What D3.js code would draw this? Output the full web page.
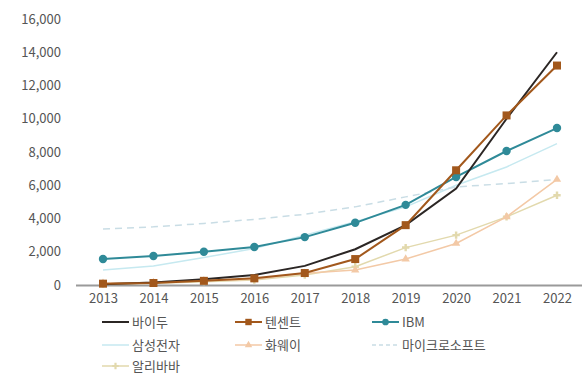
<!DOCTYPE html>
<html>
<head>
<meta charset="utf-8">
<script src="https://cdn.jsdelivr.net/npm/d3@7"></script>
<style>
  body { margin: 0; background: #fff; }
  text { font-family: "Noto Sans CJK KR", "Noto Sans", sans-serif; }
</style>
</head>
<body>
<div id="chart"></div>
<script>
// data
var years = [2013, 2014, 2015, 2016, 2017, 2018, 2019, 2020, 2021, 2022];
var yTicks = [0, 2000, 4000, 6000, 8000, 10000, 12000, 14000, 16000];

var baidu     = [50, 150, 350, 600, 1150, 2150, 3600, 5800, 10000, 14000];
var tencent   = [80, 120, 250, 400, 720, 1560, 3600, 6900, 10200, 13200];
var ibm       = [1560, 1740, 2000, 2290, 2880, 3740, 4820, 6500, 8060, 9440];
var samsung   = [900, 1150, 1650, 2200, 3000, 3800, 4700, 6000, 7100, 8500];
var huawei    = [100, 150, 250, 350, 700, 900, 1560, 2500, 4100, 6350];
var microsoft = [3370, 3500, 3700, 3950, 4250, 4700, 5300, 5900, 6100, 6350];
var alibaba   = [50, 100, 200, 300, 600, 1100, 2250, 3000, 4100, 5400];

var series = [
  {name: "바이두", values: baidu, color: "#2b2624", width: 2, marker: null},
  {name: "텐센트", values: tencent, color: "#a2581c", width: 2, marker: "square"},
  {name: "IBM", values: ibm, color: "#2f8a98", width: 2, marker: "circle"},
  {name: "삼성전자", values: samsung, color: "#c6e9f0", width: 1.5, marker: null},
  {name: "화웨이", values: huawei, color: "#f3c9a6", width: 1.5, marker: "triangle"},
  {name: "마이크로소프트", values: microsoft, color: "#c9dde5", width: 1.5, marker: null, dash: "7,5"},
  {name: "알리바바", values: alibaba, color: "#e2d9ad", width: 1.5, marker: "cross"}
];
// draw order: light ones first
var drawOrder = [3, 5, 6, 4, 2, 0, 1];

var W = 585, H = 387;
var svg = d3.select("#chart").append("svg")
    .attr("width", W)
    .attr("height", H);

var x = d3.scalePoint().domain(years).range([103, 557]);
var y = d3.scaleLinear().domain([0, 16000]).range([285, 19]);

// y axis labels
svg.append("g")
    .attr("transform", "translate(64,0)")
    .call(d3.axisLeft(y).tickValues(yTicks).tickSize(0).tickFormat(d3.format(",")))
    .call(function (g) { g.select(".domain").remove(); })
    .selectAll("text")
    .attr("fill", "#555")
    .attr("font-size", 13);

// x axis
var xg = svg.append("g")
    .attr("transform", "translate(0,285)")
    .call(d3.axisBottom(x).tickSize(0).tickPadding(9));
xg.select(".domain").remove();
xg.selectAll("text").attr("fill", "#555").attr("font-size", 13);
svg.append("line")
    .attr("x1", 76).attr("x2", 582)
    .attr("y1", 285.5).attr("y2", 285.5)
    .attr("stroke", "#9a9a9a").attr("stroke-width", 2);

var line = d3.line()
    .x(function (d, i) { return x(years[i]); })
    .y(function (d) { return y(d); });

function drawMarker(g, type, color, cx, cy, big) {
  var s = big ? 1 : 0.8;
  if (type === "circle") {
    g.append("circle").attr("cx", cx).attr("cy", cy).attr("r", 4.2 * s).attr("fill", color);
  } else if (type === "square") {
    g.append("rect").attr("x", cx - 4 * s).attr("y", cy - 4 * s)
      .attr("width", 8 * s).attr("height", 8 * s).attr("fill", color);
  } else if (type === "triangle") {
    g.append("path").attr("transform", "translate(" + cx + "," + cy + ")")
      .attr("d", d3.symbol().type(d3.symbolTriangle).size(30 * s)()).attr("fill", color);
  } else if (type === "cross") {
    g.append("path").attr("transform", "translate(" + cx + "," + cy + ")")
      .attr("d", d3.symbol().type(d3.symbolCross).size(30 * s)()).attr("fill", color);
  }
}

drawOrder.forEach(function (k) {
  var s = series[k];
  var g = svg.append("g");
  g.append("path")
    .datum(s.values)
    .attr("d", line)
    .attr("fill", "none")
    .attr("stroke", s.color)
    .attr("stroke-width", s.width)
    .attr("stroke-dasharray", s.dash || null);
  if (s.marker) {
    s.values.forEach(function (v, i) {
      drawMarker(g, s.marker, s.color, x(years[i]), y(v), true);
    });
  }
});

// legend
var legX = [102, 235, 372];
var legY = [322, 345, 366];
series.forEach(function (s, i) {
  var lx = legX[i % 3], ly = legY[Math.floor(i / 3)];
  var g = svg.append("g");
  g.append("line")
    .attr("x1", lx).attr("x2", lx + 27)
    .attr("y1", ly).attr("y2", ly)
    .attr("stroke", s.color)
    .attr("stroke-width", s.width)
    .attr("stroke-dasharray", s.dash ? "4,3" : null);
  if (s.marker) drawMarker(g, s.marker, s.color, lx + 13.5, ly, false);
  g.append("text")
    .attr("x", lx + 30).attr("y", ly)
    .attr("dy", "0.35em")
    .attr("fill", "#555")
    .attr("font-size", 13)
    .text(s.name);
});
</script>
</body>
</html>
